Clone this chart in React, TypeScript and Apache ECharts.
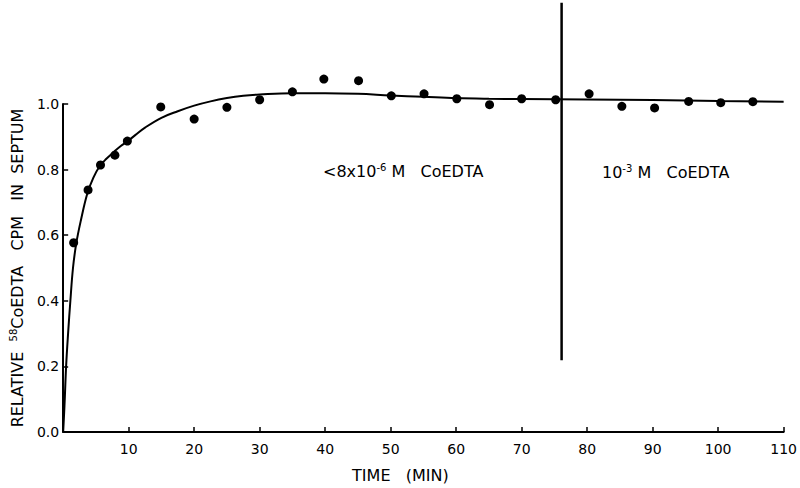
import React, { useEffect, useRef } from "react";
import * as echarts from "echarts";

// Measured points: time (min) vs relative 58CoEDTA CPM in septum
const timeMin = [1.6, 3.8, 5.7, 7.9, 9.8, 14.9, 20, 25, 30, 35, 39.8, 45.1, 50.1, 55.1, 60.1, 65.1, 70, 75.2, 80.3, 85.3, 90.3, 95.5, 100.4, 105.3];
const relCpm = [0.577, 0.738, 0.814, 0.844, 0.887, 0.991, 0.954, 0.99, 1.013, 1.037, 1.076, 1.071, 1.025, 1.031, 1.016, 0.998, 1.016, 1.013, 1.031, 0.993, 0.988, 1.008, 1.004, 1.007];

// Drawn curve through the data
const curveTime = [0, 0.2, 0.45, 0.75, 1.1, 1.5, 2.0, 2.7, 3.7, 4.6, 5.5, 6.6, 7.8, 8.8, 9.8, 11, 12.5, 15, 17.5, 20, 22.5, 25, 27.5, 30, 35, 40, 45, 50, 55, 60, 65, 70, 80, 90, 100, 110];
const curveValue = [0, 0.08, 0.2, 0.3, 0.4, 0.5, 0.575, 0.645, 0.728, 0.775, 0.808, 0.833, 0.855, 0.872, 0.886, 0.905, 0.928, 0.958, 0.978, 0.995, 1.008, 1.018, 1.025, 1.029, 1.033, 1.033, 1.031, 1.026, 1.022, 1.018, 1.016, 1.015, 1.014, 1.012, 1.009, 1.007];

// Vertical divider: switch of CoEDTA concentration
const switchTime = [76.1, 76.1];
const switchSpan = [0.219, 1.309];

// Axis ticks
const xTicks = [0, 10, 20, 30, 40, 50, 60, 70, 80, 90, 100, 110];
const yTicks = [0.0, 0.2, 0.4, 0.6, 0.8, 1.0];

const ink = "#000000";
const font = "DejaVu Sans";
const supStyle = { fontSize: 10, fontFamily: font, color: ink, fill: ink, verticalAlign: "top" as const, lineHeight: 18 };

export default function App() {
  const ref = useRef<HTMLDivElement>(null);
  useEffect(() => {
    if (!ref.current) return;
    const chart = echarts.init(ref.current, null, { renderer: "svg" });
    const option = {
      animation: false,
      backgroundColor: "#ffffff",
      textStyle: { fontFamily: font, color: ink },
      grid: { left: 60, right: 13, top: 104, bottom: 56, containLabel: false },
      xAxis: {
        type: "value",
        min: xTicks[0],
        max: xTicks[xTicks.length - 1],
        interval: 10,
        name: "TIME   (MIN)",
        nameLocation: "middle",
        nameGap: 35,
        nameTextStyle: { fontSize: 16, color: ink, fontFamily: font, padding: [0, 46, 0, 0] },
        axisLine: { lineStyle: { color: ink, width: 2 } },
        axisTick: { inside: true, length: 5, lineStyle: { color: ink, width: 1.5 } },
        splitLine: { show: false },
        axisLabel: {
          fontSize: 14,
          color: ink,
          fontFamily: font,
          margin: 10,
          formatter: (v: number) => (v === 0 ? "" : String(v)),
        },
      },
      yAxis: {
        type: "value",
        min: yTicks[0],
        max: yTicks[yTicks.length - 1],
        interval: 0.2,
        name: "RELATIVE  {sup|58}CoEDTA   CPM   IN  SEPTUM",
        nameLocation: "middle",
        nameRotate: 90,
        nameGap: 35,
        nameTextStyle: {
          fontSize: 16,
          color: ink,
          fontFamily: font,
          lineHeight: 18,
          rich: { sup: supStyle },
        },
        axisLine: { show: true, lineStyle: { color: ink, width: 2 } },
        axisTick: { show: true, inside: true, length: 5, lineStyle: { color: ink, width: 1.5 } },
        splitLine: { show: false },
        axisLabel: {
          fontSize: 14,
          color: ink,
          fontFamily: font,
          margin: 4,
          formatter: (v: number) => v.toFixed(1),
        },
      },
      series: [
        {
          type: "line",
          data: curveTime.map((t, i) => [t, curveValue[i]]),
          smooth: 0.4,
          showSymbol: false,
          clip: false,
          lineStyle: { color: ink, width: 2 },
          z: 2,
        },
        {
          type: "scatter",
          data: timeMin.map((t, i) => [t, relCpm[i]]),
          symbol: "circle",
          symbolSize: 9,
          clip: false,
          itemStyle: { color: ink, opacity: 1 },
          z: 3,
        },
        {
          type: "line",
          data: switchTime.map((t, i) => [t, switchSpan[i]]),
          showSymbol: false,
          clip: false,
          lineStyle: { color: ink, width: 2.5 },
          z: 2,
        },
      ],
      graphic: [
        {
          type: "text",
          left: 323,
          top: 162,
          style: {
            text: "<8x10{sup|-6} M   CoEDTA",
            fontSize: 16,
            fontFamily: font,
            fill: ink,
            lineHeight: 18,
            rich: { sup: supStyle },
          },
        },
        {
          type: "text",
          left: 602,
          top: 163,
          style: {
            text: "10{sup|-3} M   CoEDTA",
            fontSize: 16,
            fontFamily: font,
            fill: ink,
            lineHeight: 18,
            rich: { sup: supStyle },
          },
        },
      ],
    };
    chart.setOption(option);
    return () => chart.dispose();
  }, []);
  return (
    <div
      ref={ref}
      style={{ position: "fixed", left: 0, top: 0, width: 800, height: 488, background: "#fff" }}
    />
  );
}
